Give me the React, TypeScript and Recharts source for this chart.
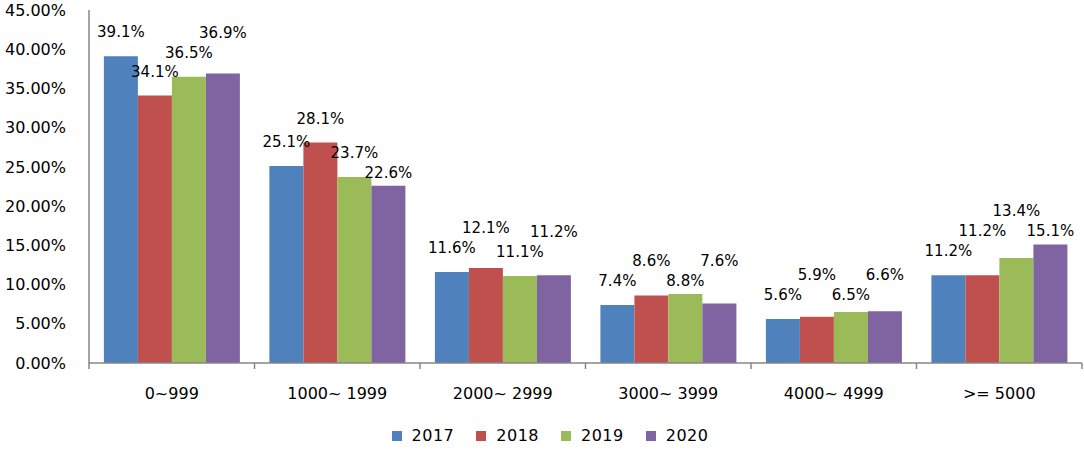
import { Bar, BarChart, Legend, XAxis, YAxis } from "recharts";

const categories = ["0~999", "1000~ 1999", "2000~ 2999", "3000~ 3999", "4000~ 4999", ">= 5000"];
const years = ["2017", "2018", "2019", "2020"];

// share of each price band, in percent
const share2017 = [39.1, 25.1, 11.6, 7.4, 5.6, 11.2];
const share2018 = [34.1, 28.1, 12.1, 8.6, 5.9, 11.2];
const share2019 = [36.5, 23.7, 11.1, 8.8, 6.5, 13.4];
const share2020 = [36.9, 22.6, 11.2, 7.6, 6.6, 15.1];
const shares = [share2017, share2018, share2019, share2020];

const yTicks = [0, 5, 10, 15, 20, 25, 30, 35, 40, 45];

const colors = ["#4F81BD", "#C0504D", "#9BBB59", "#8064A2"];
const axisGray = "#868686";
const font = "'DejaVu Sans', Verdana, sans-serif";

const CHART_W = 1084;
const CHART_H = 450;
const Y_AXIS_W = 89;
const MARGIN_RIGHT = 2;
const BAND = (CHART_W - Y_AXIS_W - MARGIN_RIGHT) / categories.length;

const data = categories.map((cat, i) => ({
  cat,
  y2017: share2017[i],
  y2018: share2018[i],
  y2019: share2019[i],
  y2020: share2020[i],
}));

// labels sit ~24px above their bar; when two neighbours would collide,
// the later one is pushed below (if room) or above the previous one
function labelCenters(bottom: number, pxPerUnit: number, index: number) {
  const out: number[] = [];
  shares.forEach((s, i) => {
    const top = bottom - s[index] * pxPerUnit;
    const base = top - 24;
    if (i === 0) {
      out.push(base);
      return;
    }
    const prev = out[i - 1];
    if (Math.abs(base - prev) >= 16) out.push(base);
    else if (prev + 20 <= top - 10) out.push(prev + 20);
    else out.push(prev - 20);
  });
  return out;
}

function makeLabel(series: number) {
  return function BarLabel(props: any) {
    const { x, y, width, height, value, index } = props;
    const v = Number(value);
    if (!v) return null;
    const ppu = Number(height) / v;
    const bottom = Number(y) + Number(height);
    const cy = labelCenters(bottom, ppu, index)[series];
    return (
      <text
        x={Number(x) + Number(width) / 2}
        y={cy}
        textAnchor="middle"
        dominantBaseline="central"
        fill="#000"
        fontSize={15}
        fontFamily={font}
      >
        {`${v.toFixed(1)}%`}
      </text>
    );
  };
}

function CategoryTick(props: any) {
  const { x, y, payload, index } = props;
  const half = BAND / 2;
  const last = index === categories.length - 1;
  return (
    <g>
      <line x1={x - half} x2={x - half} y1={y} y2={y + 6} stroke={axisGray} strokeWidth={1.5} />
      {last && <line x1={x + half} x2={x + half} y1={y} y2={y + 6} stroke={axisGray} strokeWidth={1.5} />}
      <text x={x} y={y + 36} textAnchor="middle" fill="#000" fontSize={16} fontFamily={font}>
        {payload.value}
      </text>
    </g>
  );
}

function LegendRow() {
  return (
    <div
      style={{
        display: "flex",
        justifyContent: "center",
        paddingLeft: 16,
        fontFamily: font,
        fontSize: 16,
        color: "#000",
      }}
    >
      {years.map((y, i) => (
        <div key={y} style={{ display: "flex", alignItems: "center", marginRight: i < 3 ? 22 : 0 }}>
          <span style={{ width: 10, height: 10, background: colors[i], marginRight: 10 }} />
          <span style={{ letterSpacing: 0.5 }}>{y}</span>
        </div>
      ))}
    </div>
  );
}

export default function App() {
  return (
    <div
      style={{
        position: "absolute",
        left: 0,
        top: 0,
        width: CHART_W,
        height: CHART_H,
        background: "#fff",
        fontFamily: font,
      }}
    >
      <BarChart
        width={CHART_W}
        height={CHART_H}
        data={data}
        margin={{ top: 10, right: MARGIN_RIGHT, bottom: 0, left: 0 }}
        barCategoryGap="9%"
        barGap={0}
      >
        <XAxis
          dataKey="cat"
          axisLine={{ stroke: axisGray, strokeWidth: 1.5 }}
          tickLine={false}
          tickSize={0}
          tickMargin={0}
          height={63}
          interval={0}
          tick={<CategoryTick />}
        />
        <YAxis
          width={Y_AXIS_W}
          domain={[0, 45]}
          ticks={yTicks}
          allowDataOverflow
          tickFormatter={(v: number) => `${v.toFixed(2)}%`}
          axisLine={{ stroke: axisGray, strokeWidth: 1.5 }}
          tickLine={false}
          tickSize={0}
          tickMargin={23}
          tick={{ fill: "#000", fontSize: 16, fontFamily: font }}
        />
        <Legend
          verticalAlign="bottom"
          height={24}
          wrapperStyle={{ left: 0, width: CHART_W }}
          content={() => <LegendRow />}
        />
        {years.map((y, i) => (
          <Bar
            key={y}
            dataKey={`y${y}`}
            name={y}
            fill={colors[i]}
            isAnimationActive={false}
            label={makeLabel(i)}
          />
        ))}
      </BarChart>
    </div>
  );
}
